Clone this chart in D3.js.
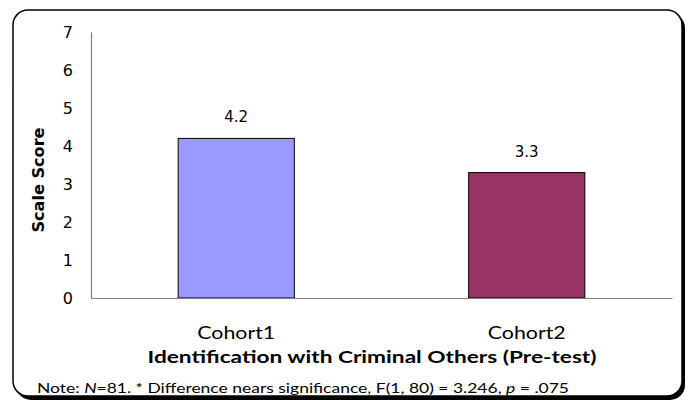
<!DOCTYPE html>
<html>
<head>
<meta charset="utf-8">
<script src="https://cdn.jsdelivr.net/npm/d3@7"></script>
<style>
  body { margin: 0; background: #fff; }
  svg { display: block; }
</style>
</head>
<body>
<svg id="chart" width="693" height="400"></svg>
<script>
const categories = ["Cohort1", "Cohort2"];
const values = [4.2, 3.3];
const colors = ["#9999ff", "#993366"];
const yTicks = [0, 1, 2, 3, 4, 5, 6, 7];

const svg = d3.select("#chart"),
  margin = {top: 32, right: 21, bottom: 102, left: 91},
  width = +svg.attr("width") - margin.left - margin.right,
  height = +svg.attr("height") - margin.top - margin.bottom;

// frame with shadow
svg.append("rect")
    .attr("x", 16).attr("y", 13)
    .attr("width", 669).attr("height", 387)
    .attr("rx", 15)
    .attr("fill", "#000");
svg.append("rect")
    .attr("x", 13).attr("y", 10)
    .attr("width", 669).attr("height", 386)
    .attr("rx", 15)
    .attr("fill", "#fff")
    .attr("stroke", "#000")
    .attr("stroke-width", 1.5);

const g = svg.append("g")
    .attr("transform", "translate(" + margin.left + "," + margin.top + ")");

const x = d3.scaleBand()
    .domain(categories)
    .range([0, width])
    .paddingInner(0.6)
    .paddingOuter(0.3);

const y = d3.scaleLinear().domain([0, 7]).range([height, 0]);

// y axis
const yAxis = g.append("g")
    .call(d3.axisLeft(y).tickValues(yTicks).tickFormat(d3.format("d")).tickSize(0).tickPadding(18));
yAxis.select(".domain").attr("stroke", "#808080").attr("stroke-width", 1.2);
yAxis.selectAll("text")
    .attr("font-family", "'DejaVu Sans', Verdana, sans-serif")
    .attr("font-size", 16)
    .attr("fill", "#000");

// bars
g.selectAll(".bar")
  .data(values)
  .enter().append("rect")
    .attr("class", "bar")
    .attr("x", (d, i) => x(categories[i]))
    .attr("y", d => y(d))
    .attr("width", x.bandwidth())
    .attr("height", d => height - y(d))
    .attr("fill", (d, i) => colors[i])
    .attr("stroke", "#000")
    .attr("stroke-width", 1);

g.selectAll(".val")
  .data(values)
  .enter().append("text")
    .attr("class", "val")
    .attr("x", (d, i) => x(categories[i]) + x.bandwidth() / 2)
    .attr("y", d => y(d) - 16)
    .attr("text-anchor", "middle")
    .attr("font-family", "'DejaVu Sans', Verdana, sans-serif")
    .attr("font-size", 15)
    .text(d => d.toFixed(1));

// x axis
const xAxis = g.append("g")
    .attr("transform", "translate(0," + height + ")")
    .call(d3.axisBottom(x).tickSize(0).tickPadding(29));
xAxis.select(".domain").attr("stroke", "#808080").attr("stroke-width", 1.2);
xAxis.selectAll("text")
    .attr("font-family", "'Comic Sans MS', 'Lato', sans-serif")
    .attr("font-size", 17)
    .attr("textLength", 78)
    .attr("lengthAdjust", "spacingAndGlyphs")
    .attr("fill", "#000");

// axis titles
svg.append("text")
    .attr("transform", "translate(44,180) rotate(-90)")
    .attr("text-anchor", "middle")
    .attr("font-family", "'DejaVu Sans', Verdana, sans-serif")
    .attr("font-weight", "bold")
    .attr("font-size", 15)
    .attr("textLength", 105)
    .attr("lengthAdjust", "spacingAndGlyphs")
    .text("Scale Score");

svg.append("text")
    .attr("x", 372).attr("y", 363)
    .attr("text-anchor", "middle")
    .attr("font-family", "'Comic Sans MS', 'Lato', sans-serif")
    .attr("font-weight", "bold")
    .attr("font-size", 17)
    .attr("textLength", 449)
    .attr("lengthAdjust", "spacingAndGlyphs")
    .text("Identification with Criminal Others (Pre-test)");

const note = svg.append("text")
    .attr("x", 37).attr("y", 393)
    .attr("font-family", "'Comic Sans MS', 'Lato', sans-serif")
    .attr("font-size", 13)
    .attr("textLength", 532)
    .attr("lengthAdjust", "spacingAndGlyphs");
note.append("tspan").text("Note: ");
note.append("tspan").attr("font-style", "italic").text("N");
note.append("tspan").text("=81. * Difference nears significance, F(1, 80) = 3.246, ");
note.append("tspan").attr("font-style", "italic").text("p");
note.append("tspan").text(" = .075");
</script>
</body>
</html>
